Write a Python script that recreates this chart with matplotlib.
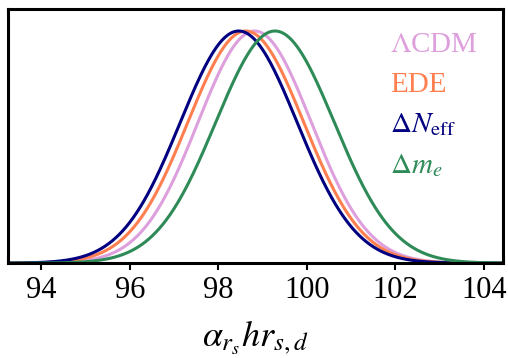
import matplotlib
matplotlib.use("Agg")
import matplotlib.pyplot as plt
import numpy as np

# 1D posteriors (approx. Gaussian)
labels = [r"$\Lambda$CDM", "EDE", r"$\Delta N_{\rm eff}$", r"$\Delta m_e$"]
colors = ["plum", "coral", "navy", "seagreen"]
means = [98.82, 98.62, 98.46, 99.28]
sigmas = [1.28, 1.31, 1.32, 1.34]
xticks = [94, 96, 98, 100, 102, 104]

plt.rcParams['font.family'] = ['Liberation Serif', 'DejaVu Serif']
plt.rcParams['mathtext.fontset'] = 'stix'

fig = plt.figure(figsize=(5.08, 3.58), dpi=100)
ax = fig.add_axes([0.016, 0.265, 0.974, 0.71])

xs = np.linspace(93.0, 104.8, 600)
for lab, c, m, s in zip(labels, colors, means, sigmas):
    ax.plot(xs, np.exp(-0.5 * ((xs - m) / s) ** 2), color=c, lw=2.2, label=lab)

ax.set_xlim(93.25, 104.43)
ax.set_ylim(0, 1.095)
ax.set_yticks([])
ax.set_xticks(xticks)
ax.tick_params(axis='x', direction='out', length=5, width=1.5, labelsize=22, pad=4)
for sp in ax.spines.values():
    sp.set_linewidth(2.2)

ax.set_xlabel(r"$\alpha_{r_s} h r_{s,d}$", fontsize=26, labelpad=10)

leg = ax.legend(loc='upper left', frameon=False, handlelength=0, handletextpad=0,
                labelcolor='linecolor', fontsize=21, labelspacing=0.46,
                borderaxespad=0, borderpad=0, bbox_to_anchor=(0.772, 0.91))
for h in leg.legend_handles:
    h.set_visible(False)

fig.savefig("out.png", dpi=100)
